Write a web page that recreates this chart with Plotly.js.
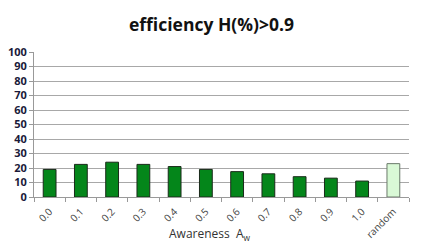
<!DOCTYPE html>
<html>
<head>
<meta charset="utf-8">
<script src="https://cdn.plot.ly/plotly-3.0.1.min.js"></script>
<style>html,body{margin:0;padding:0;background:#fff;}#chart{width:423px;height:248px;}</style>
</head>
<body>
<div id="chart"></div>
<script>
var categories = ["0.0","0.1","0.2","0.3","0.4","0.5","0.6","0.7","0.8","0.9","1.0","random"];
var values = [19, 22.5, 24, 22.5, 21, 19, 17.5, 16, 14, 13, 11, 23];
var yTicks = [0,10,20,30,40,50,60,70,80,90,100];
var barColors = categories.map(function(c){ return c === "random" ? "#d9f9d6" : "#04861a"; });
var lineColors = categories.map(function(c){ return c === "random" ? "#6a7a6a" : "#1a2a1a"; });

Plotly.newPlot("chart", [{
  type: "bar",
  x: categories,
  y: values,
  width: 0.41,
  marker: {color: barColors, line: {color: lineColors, width: 1}},
  hoverinfo: "none"
}], {
  width: 423, height: 248,
  margin: {l: 34, r: 14, t: 52, b: 51},
  paper_bgcolor: "#fff", plot_bgcolor: "#fff",
  showlegend: false,
  title: {text: "<b>efficiency H(%)>0.9</b>", x: 0.5, xanchor: "center", y: 0.9, yanchor: "middle",
          font: {family: "Open Sans, sans-serif", size: 17.5, color: "#111"}},
  xaxis: {
    type: "category",
    tickson: "boundaries",
    ticks: "outside", ticklen: 4, tickcolor: "#999",
    showline: true, linecolor: "#999", linewidth: 1,
    tickangle: -45,
    ticklabelstandoff: 4,
    tickfont: {family: "Open Sans, sans-serif", size: 10, color: "#444"},
    showgrid: false
  },
  yaxis: {
    range: [0, 100],
    tickvals: yTicks,
    ticks: "outside", ticklen: 4, tickcolor: "#999",
    showline: true, linecolor: "#999", linewidth: 1,
    showgrid: true, gridcolor: "#a8a8a8", gridwidth: 1,
    zeroline: false,
    tickfont: {family: "Open Sans, sans-serif", size: 11, color: "#1a1a3a", weight: "bold"}
  },
  annotations: [{
    text: "Awareness  A<sub>w</sub>", xref: "paper", yref: "paper",
    x: 0.47, y: -0.255, xanchor: "center", yanchor: "middle", showarrow: false,
    font: {family: "Open Sans, sans-serif", size: 12, color: "#333"}
  }],
  bargap: 0.59
}, {staticPlot: true, displayModeBar: false});
</script>
</body>
</html>
